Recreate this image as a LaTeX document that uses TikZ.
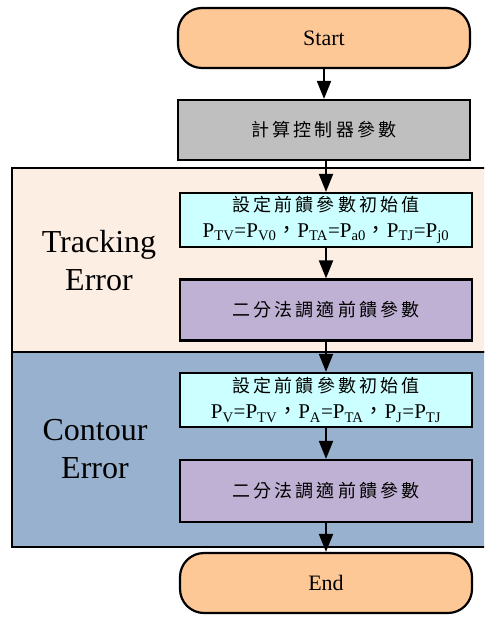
\documentclass[tikz,border=0pt]{standalone}
\usepackage{fontspec}
\setmainfont{Liberation Serif}
\newfontfamily\cjk[LetterSpace=18]{Noto Sans CJK TC}
\usetikzlibrary{arrows.meta}

\definecolor{termfill}{RGB}{254,200,150}
\definecolor{calcfill}{RGB}{191,191,191}
\definecolor{initfill}{RGB}{204,255,255}
\definecolor{tunefill}{RGB}{191,177,211}
\definecolor{trackbg}{RGB}{253,238,228}
\definecolor{contourbg}{RGB}{151,177,207}

\newcommand{\Pv}[1]{P\textsubscript{#1}}
\newcommand{\fwc}{{\cjk ，}}

\begin{document}
\begin{tikzpicture}[x=1pt,y=-1pt,
    term/.style={draw,line width=2.2pt,fill=termfill,rounded corners=24pt,
        minimum width=292pt,minimum height=60pt,font=\fontsize{22}{26}\selectfont},
    proc/.style={draw,line width=2.2pt,minimum width=292pt,inner sep=2pt},
    cjktext/.style={font=\fontsize{18}{26}\selectfont\cjk},
    sidelabel/.style={align=center,font=\fontsize{32}{38}\selectfont},
    flow/.style={line width=2pt,-{Triangle[length=18pt,width=14pt]}}]

\clip (0,0) rectangle (484,617);

% panels
\draw[line width=2pt,fill=trackbg] (12,168) rectangle (500,352);
\draw[line width=2pt,fill=contourbg] (12,352) rectangle (500,547);

\node[sidelabel] (tracklab) at (99,261) {Tracking\\Error};
\node[sidelabel] (contlab) at (95,449) {Contour\\Error};

% flow boxes
\node[term] (start) at (324,38) {Start};
\node[proc,fill=calcfill,minimum height=60pt,cjktext] (calc) at (324,130) {計算控制器參數};
\node[proc,fill=initfill,minimum height=54pt,align=center,font=\fontsize{21}{26}\selectfont] (inita) at (326,220)
    {{\cjk\fontsize{18}{26}\selectfont 設定前饋參數初始值}\\
     \Pv{TV}=\Pv{V0}\fwc\Pv{TA}=\Pv{a0}\fwc\Pv{TJ}=\Pv{j0}};
\node[proc,fill=tunefill,minimum height=61pt,cjktext] (tunea) at (326,310) {二分法調適前饋參數};
\node[proc,fill=initfill,minimum height=54pt,align=center,font=\fontsize{21}{26}\selectfont] (initb) at (326,400)
    {{\cjk\fontsize{18}{26}\selectfont 設定前饋參數初始值}\\
     \Pv{V}=\Pv{TV}\fwc\Pv{A}=\Pv{TA}\fwc\Pv{J}=\Pv{TJ}};
\node[proc,fill=tunefill,minimum height=62pt,cjktext] (tuneb) at (326,491) {二分法調適前饋參數};
\node[term] (stop) at (326,583) {End};

% arrows
\draw[flow] (start) -- (calc);
\draw[flow] (calc.south -| inita.north) -- (inita);
\draw[flow] (inita) -- (tunea);
\draw[flow] (tunea) -- (initb);
\draw[flow] (initb) -- (tuneb);
\draw[flow] (tuneb) -- (stop);

\end{tikzpicture}
\end{document}
